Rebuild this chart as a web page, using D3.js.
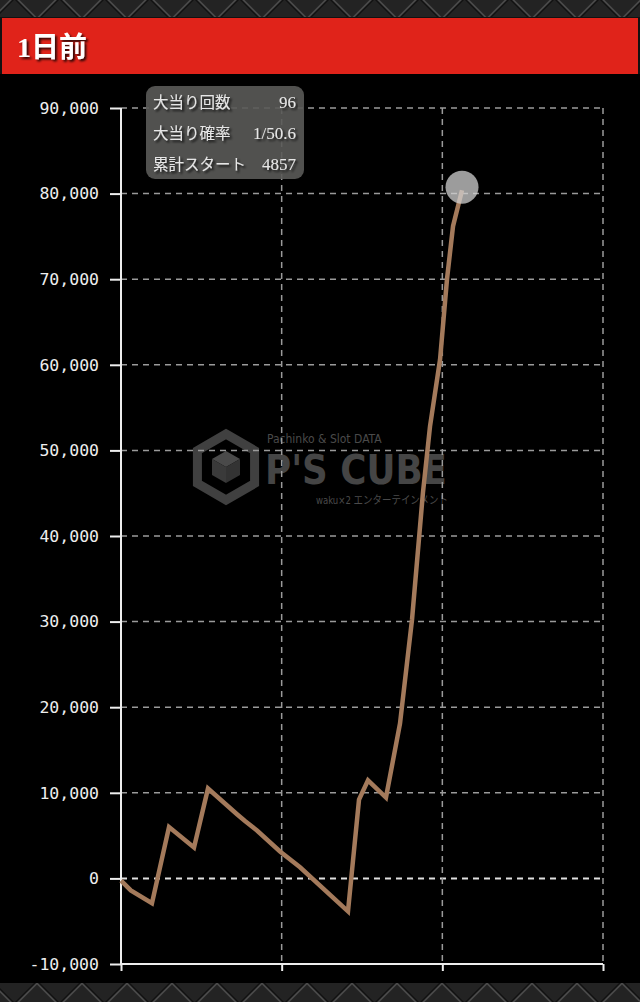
<!DOCTYPE html>
<html>
<head>
<meta charset="utf-8">
<script src="https://cdn.jsdelivr.net/npm/d3@7"></script>
<style>
  html, body { margin: 0; padding: 0; background: #1e1e1e; }
  svg { display: block; }
</style>
</head>
<body>
<svg id="chart" width="640" height="1002"></svg>
<script>
// cumulative starts (x) and balance (y)
var starts = [0, 140, 441, 684, 1040, 1239, 1652, 1766, 1937, 2265, 2550, 3233, 3390, 3518, 3774, 3974, 4145, 4301, 4401, 4544, 4643, 4729, 4857];
var balance = [-250, -1400, -2900, 6000, 3600, 10500, 7500, 6700, 5600, 3150, 1300, -3850, 9200, 11450, 9450, 18100, 30250, 45100, 52800, 60600, 70000, 76200, 80400];
var yTicks = [-10000, 0, 10000, 20000, 30000, 40000, 50000, 60000, 70000, 80000, 90000];
var xMax = 6865;
var infoLabels = ["大当り回数", "大当り確率", "累計スタート"];
var infoValues = ["96", "1/50.6", "4857"];
var title = "1日前";

(function(d3) {
  var svg = d3.select("#chart");
  var W = 640, H = 1002;

  // textured background with chevrons
  var defs = svg.append("defs");
  var pat = defs.append("pattern")
    .attr("id", "chev")
    .attr("width", 45).attr("height", 45)
    .attr("patternUnits", "userSpaceOnUse")
    .attr("x", -8).attr("y", -26);
  pat.append("rect").attr("width", 45).attr("height", 45).attr("fill", "#232323");
  pat.append("path").attr("d", "M0,45 L22.5,22.5 L45,45").attr("fill", "none").attr("stroke", "#4a4a4a").attr("stroke-width", 2);
  pat.append("path").attr("d", "M0,47 L22.5,24.5 L45,47").attr("fill", "none").attr("stroke", "#111").attr("stroke-width", 1.5);
  var pat2 = defs.append("pattern")
    .attr("id", "chev2")
    .attr("width", 45).attr("height", 45)
    .attr("patternUnits", "userSpaceOnUse")
    .attr("x", -8).attr("y", 983);
  pat2.append("rect").attr("width", 45).attr("height", 45).attr("fill", "#232323");
  pat2.append("path").attr("d", "M0,0 L22.5,22.5 L45,0").attr("fill", "none").attr("stroke", "#4a4a4a").attr("stroke-width", 2);
  pat2.append("path").attr("d", "M0,-2 L22.5,20.5 L45,-2").attr("fill", "none").attr("stroke", "#111").attr("stroke-width", 1.5);

  var shadow = defs.append("filter").attr("id", "shadow");
  shadow.append("feDropShadow").attr("dx", 2).attr("dy", 2).attr("stdDeviation", 1).attr("flood-color", "#000").attr("flood-opacity", 0.8);

  svg.append("rect").attr("width", W).attr("height", 20).attr("fill", "url(#chev)");
  svg.append("rect").attr("y", 983).attr("width", W).attr("height", 19).attr("fill", "url(#chev2)");

  // header
  svg.append("rect").attr("x", 0).attr("y", 17).attr("width", W).attr("height", 58).attr("fill", "#111");
  svg.append("rect").attr("x", 2).attr("y", 18).attr("width", 636).attr("height", 56).attr("fill", "#e0231a");
  svg.append("text")
    .attr("x", 17).attr("y", 57)
    .attr("fill", "#fff")
    .attr("filter", "url(#shadow)")
    .style("font-family", "'Liberation Serif', 'Noto Sans CJK JP', serif")
    .style("font-weight", "bold")
    .style("font-size", "28px")
    .text(title);

  // black panel
  svg.append("rect").attr("x", 0).attr("y", 74).attr("width", W).attr("height", 909).attr("fill", "#000");

  var margin = {top: 108, right: 37, bottom: 38, left: 121};
  var width = 603 - margin.left,
      height = 964 - margin.top;
  var g = svg.append("g").attr("transform", "translate(" + margin.left + "," + margin.top + ")");

  var x = d3.scaleLinear().domain([0, xMax]).range([0, width]),
      y = d3.scaleLinear().domain([-10000, 90000]).range([height, 0]);
  var xTicks = [0, xMax / 3, xMax * 2 / 3, xMax];

  // watermark logo
  var wm = g.append("g").attr("transform", "translate(" + (226 - margin.left) + "," + (467 - margin.top) + ")");
  var hex = d3.range(6).map(function(i) {
    var a = Math.PI / 3 * i - Math.PI / 2;
    return [33 * Math.cos(a), 33 * Math.sin(a)];
  });
  wm.append("path").attr("d", "M" + hex.join("L") + "Z")
    .attr("fill", "none").attr("stroke", "#404040").attr("stroke-width", 9);
  wm.append("path").attr("d", "M0,-16 L14,-8 L0,0 L-14,-8Z").attr("fill", "#4a4a4a");
  wm.append("path").attr("d", "M-14,-8 L0,0 L0,16 L-14,8Z").attr("fill", "#3a3a3a");
  wm.append("path").attr("d", "M14,-8 L0,0 L0,16 L14,8Z").attr("fill", "#333");
  wm.append("text").attr("x", 41).attr("y", -24)
    .attr("fill", "#4a4a4a").style("font-family", "'DejaVu Sans Condensed', 'DejaVu Sans', sans-serif")
    .style("font-size", "12px").text("Pachinko & Slot DATA");
  wm.append("text").attr("x", 39).attr("y", 17)
    .attr("fill", "#454545").attr("textLength", 182).attr("lengthAdjust", "spacingAndGlyphs")
    .style("font-family", "'DejaVu Sans', sans-serif").style("font-weight", "bold")
    .style("font-size", "40px").text("P'S CUBE");
  wm.append("text").attr("x", 90).attr("y", 37)
    .attr("fill", "#4a4a4a").attr("textLength", 132).attr("lengthAdjust", "spacingAndGlyphs")
    .style("font-family", "'DejaVu Sans Condensed', 'Noto Sans CJK JP', sans-serif")
    .style("font-size", "11px").text("waku×2 エンターテインメント");

  // grid
  g.selectAll(".hgrid")
    .data(yTicks.filter(function(d) { return d !== -10000; }))
    .enter().append("line")
    .attr("class", "hgrid")
    .attr("x1", 0).attr("x2", width)
    .attr("y1", function(d) { return y(d); })
    .attr("y2", function(d) { return y(d); })
    .attr("stroke", function(d) { return d === 0 ? "#e0e0e0" : "#9a9a9a"; })
    .attr("stroke-width", function(d) { return d === 0 ? 2 : 1.5; })
    .attr("stroke-dasharray", "6,5");

  g.selectAll(".vgrid")
    .data(xTicks.slice(1))
    .enter().append("line")
    .attr("class", "vgrid")
    .attr("x1", function(d) { return x(d); })
    .attr("x2", function(d) { return x(d); })
    .attr("y1", 0).attr("y2", height)
    .attr("stroke", "#9a9a9a")
    .attr("stroke-width", 1.5)
    .attr("stroke-dasharray", "6,5");

  // axes
  var yAxis = g.append("g")
    .call(d3.axisLeft(y).tickValues(yTicks).tickSize(11).tickPadding(11)
      .tickFormat(function(d) { return d3.format(",")(d).replace("−", "-"); }));
  var xAxis = g.append("g")
    .attr("transform", "translate(0," + height + ")")
    .call(d3.axisBottom(x).tickValues(xTicks).tickSize(7).tickFormat(""));
  [yAxis, xAxis].forEach(function(a) {
    a.select(".domain").attr("stroke", "#eee").attr("stroke-width", 2);
    a.selectAll(".tick line").attr("stroke", "#eee").attr("stroke-width", 2);
  });
  yAxis.select(".domain").attr("d", "M0," + height + "V0");
  xAxis.select(".domain").attr("d", "M0,0H" + width);
  yAxis.selectAll(".tick text")
    .attr("fill", "#eee")
    .style("font-family", "'DejaVu Sans Mono', monospace")
    .style("font-size", "16.5px");

  // balance line
  var pts = starts.map(function(s, i) { return {x: s, y: balance[i]}; });
  var line = d3.line()
    .x(function(d) { return x(d.x); })
    .y(function(d) { return y(d.y); });
  g.append("path")
    .datum(pts)
    .attr("d", line)
    .attr("fill", "none")
    .attr("stroke", "#a47a5b")
    .attr("stroke-width", 4.5)
    .attr("stroke-linejoin", "miter");

  var last = pts[pts.length - 1];
  g.append("circle")
    .attr("cx", x(last.x))
    .attr("cy", y(last.y) - 3)
    .attr("r", 16.5)
    .attr("fill", "#d0d0d0")
    .attr("fill-opacity", 0.75);

  // info box
  var box = svg.append("g").attr("transform", "translate(146,86)");
  box.append("rect").attr("width", 158).attr("height", 93).attr("rx", 9)
    .attr("fill", "#5a5a58").attr("fill-opacity", 0.9);
  box.selectAll(".lab").data(infoLabels).enter().append("text")
    .attr("x", 7).attr("y", function(d, i) { return 22 + i * 31; })
    .attr("fill", "#e6e6e6").attr("filter", "url(#shadow)")
    .style("font-family", "'Noto Sans CJK JP', sans-serif")
    .style("font-size", "15.5px")
    .text(function(d) { return d; });
  box.selectAll(".val").data(infoValues).enter().append("text")
    .attr("x", 150).attr("y", function(d, i) { return 22 + i * 31; })
    .attr("text-anchor", "end")
    .attr("fill", "#e6e6e6").attr("filter", "url(#shadow)")
    .style("font-family", "'Liberation Serif', serif")
    .style("font-size", "17px")
    .text(function(d) { return d; });
})(window.d3);
</script>
</body>
</html>
